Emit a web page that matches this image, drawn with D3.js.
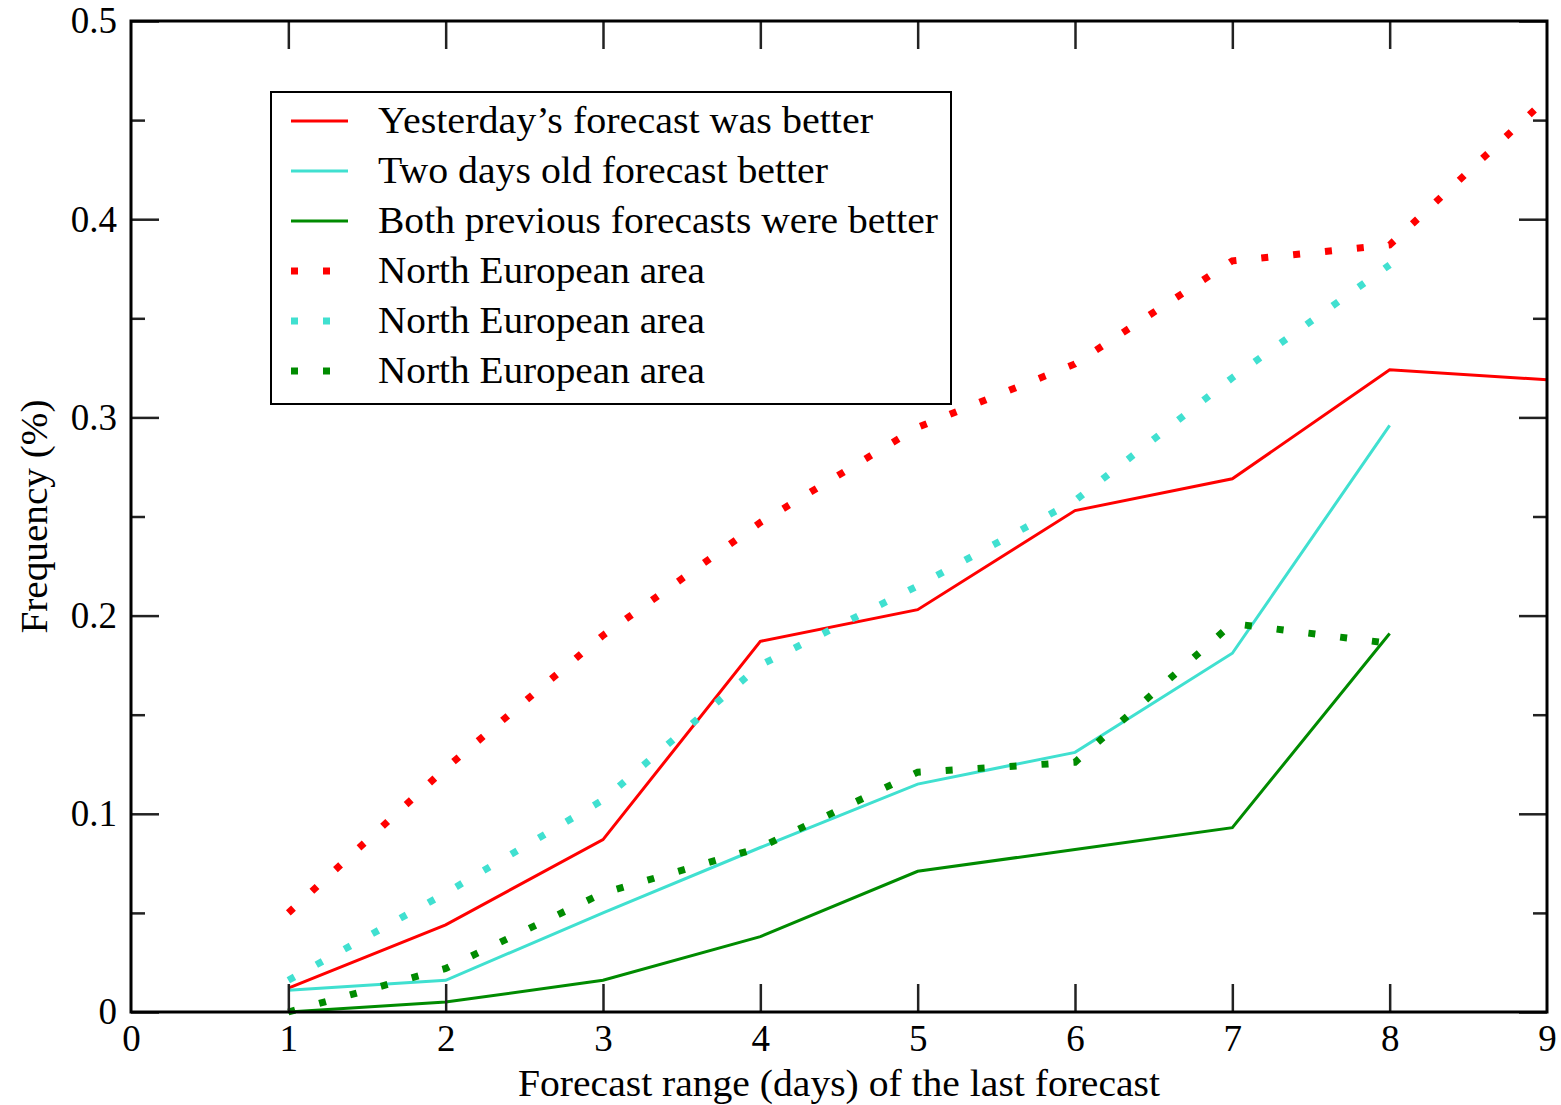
<!DOCTYPE html>
<html>
<head>
<meta charset="utf-8">
<script src="https://cdn.jsdelivr.net/npm/d3@7"></script>
<style>
  html, body { margin: 0; padding: 0; background: #fff; }
  svg { display: block; }
  text { font-family: "Liberation Serif", "DejaVu Serif", serif; fill: #000; }
</style>
</head>
<body>
<svg id="chart" width="1561" height="1105"></svg>
<script>
// Forecast range (days)
const days = [1, 2, 3, 4, 5, 6, 7, 8, 9];

// Whole area (solid lines)
const yesterdayBetter = [0.012, 0.044, 0.087, 0.187, 0.203, 0.253, 0.269, 0.324, 0.319];
const twoDaysBetter   = [0.011, 0.016, 0.050, 0.083, 0.115, 0.131, 0.181, 0.296];
const bothBetter      = [0.000, 0.005, 0.016, 0.038, 0.071, 0.082, 0.093, 0.191];

// North European area (dotted lines)
const yesterdayNorth = [0.050, 0.123, 0.190, 0.247, 0.295, 0.327, 0.379, 0.387, 0.461];
const twoDaysNorth   = [0.016, 0.060, 0.107, 0.175, 0.215, 0.258, 0.320, 0.377];
const bothNorth      = [0.000, 0.022, 0.060, 0.083, 0.121, 0.126, 0.196, 0.186];

// Axis ticks and labels
const xTicks = [0, 1, 2, 3, 4, 5, 6, 7, 8, 9];
const xTickLabels = ["0", "1", "2", "3", "4", "5", "6", "7", "8", "9"];
const yTicks = [0, 0.1, 0.2, 0.3, 0.4, 0.5];
const yTickLabels = ["0", "0.1", "0.2", "0.3", "0.4", "0.5"];
const yMinorTicks = [0.05, 0.15, 0.25, 0.35, 0.45];

const xTitle = "Forecast range (days) of the last forecast";
const yTitle = "Frequency (%)";

const RED = "#ff0000", TURQ = "#40e0d0", GREEN = "#008b00";

const series = [
  { name: "Yesterday\u2019s forecast was better", values: yesterdayBetter, color: RED, dotted: false, len: 495 },
  { name: "Two days old forecast better", values: twoDaysBetter, color: TURQ, dotted: false, len: 450 },
  { name: "Both previous forecasts were better", values: bothBetter, color: GREEN, dotted: false, len: 560 },
  { name: "North European area", values: yesterdayNorth, color: RED, dotted: true, len: 327 },
  { name: "North European area", values: twoDaysNorth, color: TURQ, dotted: true, len: 327 },
  { name: "North European area", values: bothNorth, color: GREEN, dotted: true, len: 327 }
];

const svg = d3.select("#chart");
const frameL = 131, frameR = 1547, frameT = 21, frameB = 1012;

const x = d3.scaleLinear().domain([0, 9]).range([frameL, frameR]);
const y = d3.scaleLinear().domain([0, 0.5]).range([frameB, frameT]);

const solidStyle = sel => sel.attr("stroke-width", 3).attr("fill", "none")
  .attr("stroke-linejoin", "miter");
const dotStyle = sel => sel.attr("stroke-width", 7).attr("fill", "none")
  .attr("stroke-dasharray", "7,25").attr("stroke-linecap", "butt");

// Data lines
const line = d3.line().x((d, i) => x(days[i])).y(d => y(d));
const plot = svg.append("g");
series.forEach(s => {
  const p = plot.append("path").datum(s.values).attr("d", line).attr("stroke", s.color);
  if (s.dotted) p.call(dotStyle); else p.call(solidStyle);
});

// Ticks on all four sides, pointing inward
const tickStyle = g => {
  g.select(".domain").remove();
  g.selectAll(".tick line").attr("stroke", "#222").attr("stroke-width", 2.5);
  g.selectAll(".tick text").attr("font-family", "Liberation Serif, serif")
    .attr("font-size", 37).attr("fill", "#000");
};
const xMajor = xTicks.filter(v => v > 0 && v < 9);

svg.append("g").attr("transform", `translate(0,${frameB})`)
  .call(d3.axisBottom(x).tickValues(xTicks).tickSize(0).tickPadding(13)
    .tickFormat((d, i) => xTickLabels[i]))
  .call(tickStyle);
svg.append("g").attr("transform", `translate(0,${frameB})`)
  .call(d3.axisBottom(x).tickValues(xMajor).tickSize(-28).tickFormat(""))
  .call(tickStyle);
svg.append("g").attr("transform", `translate(0,${frameT})`)
  .call(d3.axisTop(x).tickValues(xMajor).tickSize(-28).tickFormat(""))
  .call(tickStyle);

svg.append("g").attr("transform", `translate(${frameL},0)`)
  .call(d3.axisLeft(y).tickValues(yTicks).tickSize(-28).tickPadding(14)
    .tickFormat((d, i) => yTickLabels[i]))
  .call(tickStyle);
svg.append("g").attr("transform", `translate(${frameL},0)`)
  .call(d3.axisLeft(y).tickValues(yMinorTicks).tickSize(-14).tickFormat(""))
  .call(tickStyle);
svg.append("g").attr("transform", `translate(${frameR},0)`)
  .call(d3.axisRight(y).tickValues(yTicks).tickSize(-28).tickFormat(""))
  .call(tickStyle);
svg.append("g").attr("transform", `translate(${frameR},0)`)
  .call(d3.axisRight(y).tickValues(yMinorTicks).tickSize(-14).tickFormat(""))
  .call(tickStyle);

// Frame
svg.append("rect").attr("x", frameL).attr("y", frameT)
  .attr("width", frameR - frameL).attr("height", frameB - frameT)
  .attr("fill", "none").attr("stroke", "#000").attr("stroke-width", 3);

// Axis titles
svg.append("text").attr("x", (frameL + frameR) / 2).attr("y", 1096)
  .attr("text-anchor", "middle").attr("font-size", 37)
  .attr("textLength", 642).attr("lengthAdjust", "spacingAndGlyphs").text(xTitle);
svg.append("text")
  .attr("transform", `translate(47,${(frameT + frameB) / 2}) rotate(-90)`)
  .attr("text-anchor", "middle").attr("font-size", 37)
  .attr("textLength", 234).attr("lengthAdjust", "spacingAndGlyphs").text(yTitle);

// Legend
const lg = svg.append("g");
lg.append("rect").attr("x", 271).attr("y", 92).attr("width", 680).attr("height", 312)
  .attr("fill", "#fff").attr("stroke", "#000").attr("stroke-width", 2);
series.forEach((s, i) => {
  const cy = 121 + i * 50;
  const p = lg.append("path").attr("d", `M291,${cy}H348`).attr("stroke", s.color);
  if (s.dotted) p.call(dotStyle); else p.call(solidStyle);
  lg.append("text").attr("x", 378).attr("y", cy + 12).attr("font-size", 37)
    .attr("textLength", s.len).attr("lengthAdjust", "spacingAndGlyphs").text(s.name);
});
</script>
</body>
</html>
